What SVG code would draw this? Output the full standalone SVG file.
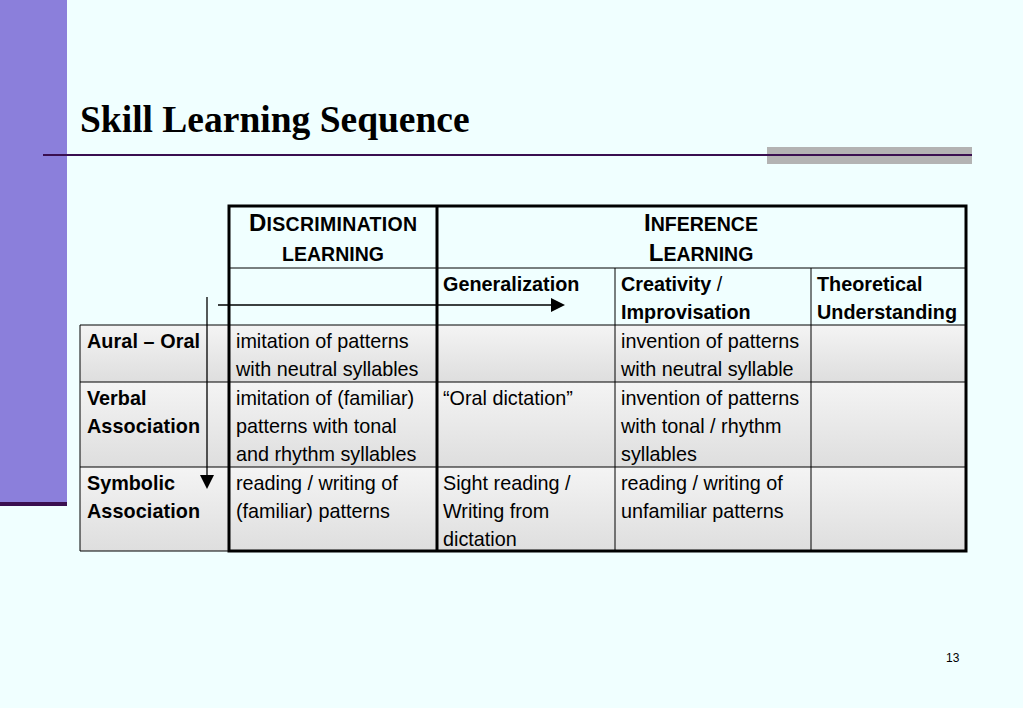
<svg xmlns="http://www.w3.org/2000/svg" width="1023" height="708" viewBox="0 0 1023 708">
<defs>
<linearGradient id="g" x1="0" y1="0" x2="0" y2="1"><stop offset="0" stop-color="#f4f4f4"/><stop offset="1" stop-color="#dedede"/></linearGradient>
<style>
text{font-family:"Liberation Sans",Arial,sans-serif;font-size:19.8px;fill:#000}
.b{font-weight:bold}
.h{font-weight:bold;font-size:24px}
.hs{font-weight:bold;font-size:19.5px}
.thin{stroke:#000;stroke-width:1;fill:none}
.thick{stroke:#000;stroke-width:3;fill:none}
</style>
</defs>
<rect width="1023" height="708" fill="#f0ffff"/>
<rect x="0" y="0" width="67" height="505" fill="#8b7fdb"/>
<rect x="0" y="502" width="67" height="4" fill="#3a0f50"/>
<text x="80" y="132" style="font-family:'Liberation Serif',serif;font-size:37.5px;font-weight:bold">Skill Learning Sequence</text>
<rect x="767" y="147" width="205" height="17" fill="#b3b3b3"/>
<line x1="43" y1="155" x2="972" y2="155" stroke="#3a0f50" stroke-width="2"/>
<g id="table">
<rect x="80" y="325" width="886" height="57" fill="url(#g)"/>
<rect x="80" y="382" width="886" height="85" fill="url(#g)"/>
<rect x="80" y="467" width="886" height="84" fill="url(#g)"/>
<g class="thin">
<line x1="437" y1="268" x2="966" y2="268"/>
<line x1="80" y1="325" x2="966" y2="325"/>
<line x1="80" y1="382" x2="966" y2="382"/>
<line x1="80" y1="467" x2="966" y2="467"/>
<line x1="80" y1="551" x2="229" y2="551"/>
<line x1="80" y1="325" x2="80" y2="551"/>
<line x1="615" y1="268" x2="615" y2="551"/>
<line x1="811" y1="268" x2="811" y2="551"/>
<line x1="230" y1="268" x2="437" y2="268"/>
</g>
<g class="thick">
<rect x="229" y="206" width="737" height="345"/>
<line x1="437" y1="206" x2="437" y2="551"/>
</g>
</g>
<g id="header-disc"><text x="333" y="231" text-anchor="middle" class="h" textLength="168">D<tspan class="hs">ISCRIMINATION</tspan></text><text x="333" y="261" text-anchor="middle" class="hs">LEARNING</text></g>
<g id="header-inf"><text x="701" y="231" text-anchor="middle" class="h">I<tspan class="hs">NFERENCE</tspan></text><text x="701" y="261" text-anchor="middle" class="h">L<tspan class="hs">EARNING</tspan></text></g>
<g id="cols">
<text x="443" y="291" class="b">Generalization</text>
<text x="621" y="291" class="b">Creativity <tspan font-weight="normal">/</tspan></text>
<text x="621" y="319" class="b">Improvisation</text>
<text x="817" y="291" class="b">Theoretical</text>
<text x="817" y="319" class="b" textLength="140">Understanding</text>
</g>
<g id="rows">
<text x="87" y="348" class="b" textLength="113">Aural – Oral</text>
<text x="87" y="405" class="b">Verbal</text><text x="87" y="433" class="b" textLength="113">Association</text>
<text x="87" y="490" class="b">Symbolic</text><text x="87" y="518" class="b" textLength="113">Association</text>
</g>
<g id="cells">
<text x="236" y="348">imitation of patterns</text><text x="236" y="376">with neutral syllables</text>
<text x="621" y="348">invention of patterns</text><text x="621" y="376">with neutral syllable</text>
<text x="236" y="405">imitation of (familiar)</text><text x="236" y="433">patterns with tonal</text><text x="236" y="461">and rhythm syllables</text>
<text x="443" y="405">“Oral dictation”</text>
<text x="621" y="405">invention of patterns</text><text x="621" y="433">with tonal / rhythm</text><text x="621" y="461">syllables</text>
<text x="236" y="490">reading / writing of</text><text x="236" y="518">(familiar) patterns</text>
<text x="443" y="490">Sight reading /</text><text x="443" y="518">Writing from</text><text x="443" y="546">dictation</text>
<text x="621" y="490">reading / writing of</text><text x="621" y="518">unfamiliar patterns</text>
</g>
<g id="connectors">
<line x1="218" y1="305" x2="552" y2="305" stroke="#000" stroke-width="1.3"/>
<polygon points="551,298 565,305 551,312" fill="#000"/>
<line x1="207" y1="297" x2="207" y2="476" stroke="#000" stroke-width="1.3"/>
<polygon points="200,475 214,475 207,489" fill="#000"/>
</g>
<text x="946" y="662" style="font-size:12px">13</text>
</svg>
